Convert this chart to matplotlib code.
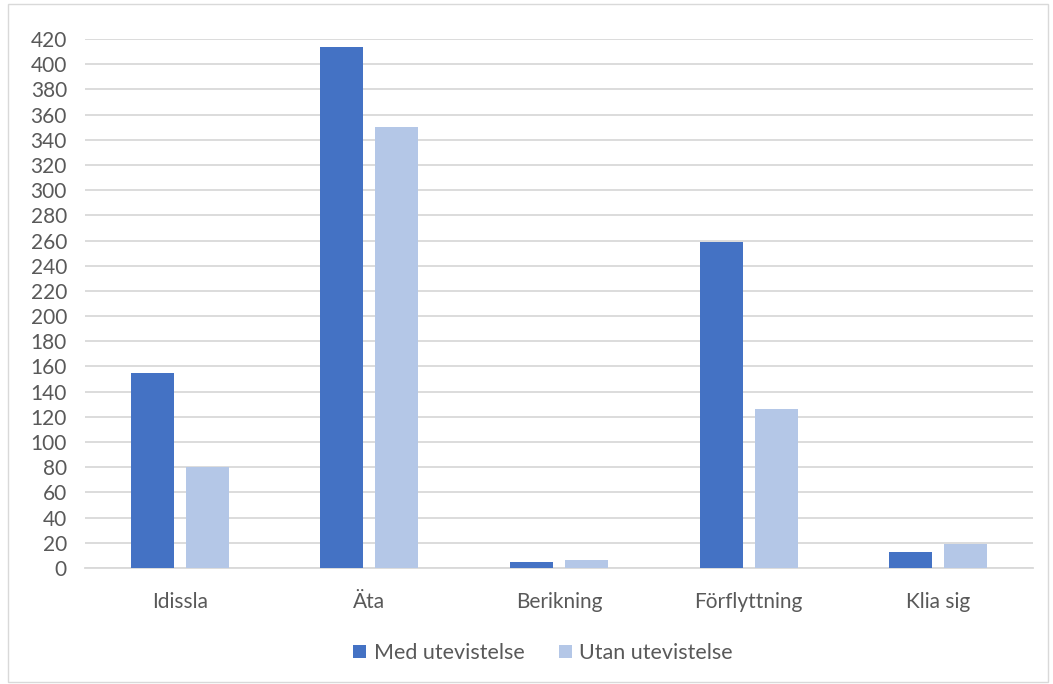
import matplotlib
matplotlib.use("Agg")
import matplotlib.pyplot as plt
from matplotlib.patches import Rectangle
import numpy as np

categories = ["Idissla", "Äta", "Berikning", "Förflyttning", "Klia sig"]
med_utevistelse = [155, 414, 5, 259, 13]
utan_utevistelse = [80, 350, 6, 126, 19]
series_names = ["Med utevistelse", "Utan utevistelse"]
yticks = list(range(0, 421, 20))

plt.rcParams["font.family"] = ["Lato", "DejaVu Sans"]

fig = plt.figure(figsize=(10.53, 6.84), dpi=100)
ax = fig.add_axes([85 / 1053, 1 - 568 / 684, (1033 - 85) / 1053, (568 - 39) / 684])

x = np.arange(len(categories))
w = 0.227
off = 0.145
ax.bar(x - off, med_utevistelse, w, color="#4472C4", label=series_names[0], zorder=3)
ax.bar(x + off, utan_utevistelse, w, color="#B4C7E7", label=series_names[1], zorder=3)

ax.set_xlim(-0.5, len(categories) - 0.5)
ax.set_ylim(0, 420)
ax.set_yticks(yticks)
ax.yaxis.grid(True, color="#D9D9D9", linewidth=1.3, zorder=0)
ax.set_axisbelow(True)
for s in ["top", "right", "left"]:
    ax.spines[s].set_visible(False)
ax.spines["bottom"].set_color("#D9D9D9")
ax.spines["bottom"].set_linewidth(1.3)
ax.set_xticks(x)
ax.set_xticklabels(categories)
ax.tick_params(axis="both", length=0, labelsize=15, colors="#595959")
ax.tick_params(axis="x", pad=17)
ax.tick_params(axis="y", pad=13)
for t in ax.get_yticklabels():
    t.set_horizontalalignment("right")

leg = fig.legend(loc="center", bbox_to_anchor=(543 / 1053, 1 - 653 / 684), ncol=2,
                 frameon=False, fontsize=15.5, handlelength=0.6, handleheight=0.6,
                 handletextpad=0.35, columnspacing=1.6)
for t in leg.get_texts():
    t.set_color("#595959")

fig.patches.append(Rectangle((8 / 1053, 2 / 684), 1040 / 1053, 678 / 684,
                             transform=fig.transFigure, fill=False,
                             edgecolor="#D9D9D9", linewidth=1.0))

fig.savefig("out.png", dpi=100)
